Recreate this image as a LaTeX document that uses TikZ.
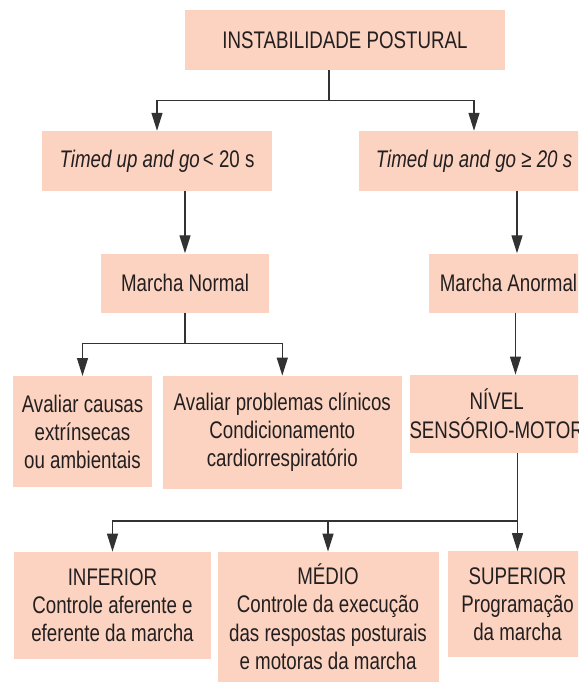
\documentclass[tikz,border=0pt]{standalone}
\usepackage{fontspec}
\setmainfont{Liberation Sans}[FakeStretch=0.78]
\usetikzlibrary{arrows.meta}
\definecolor{salmao}{RGB}{251,211,192}
\definecolor{tinta}{RGB}{35,31,32}
\definecolor{traco}{RGB}{50,50,50}

\begin{document}
\begin{tikzpicture}[x=1pt, y=-1pt,
    caixa/.style ={rectangle, fill=salmao, text=tinta, align=center, inner sep=0pt,
                   font=\fontsize{24pt}{28.2pt}\selectfont},
    ligacao/.style ={draw=traco, line width=1.3pt},
    seta/.style ={ligacao, -{Triangle[length=18pt, width=11pt]}}]
   \clip (0,0) rectangle (578,682);
   \node[caixa, minimum width=320pt, minimum height=60pt] (postural) at (345,40) {INSTABILIDADE POSTURAL};
   \node[caixa, minimum width=230pt, minimum height=60pt] (tugmenor) at (157,161) {\textit{Timed up and go}\hspace{3pt}< 20 s};
   \node[caixa, minimum width=230pt, minimum height=60pt] (tugmaior) at (474,161) {\textit{Timed up and go ≥ 20 s}};
   \node[caixa, minimum width=168pt, minimum height=59pt] (normal) at (185,283) {Marcha Normal};
   \node[caixa, minimum width=159pt, minimum height=59pt] (anormal) at (508.5,283) {Marcha Anormal};
   \node[caixa, minimum width=139pt, minimum height=111pt] (extrinseca) at (82.5,431.7) {Avaliar causas\\extrínsecas\\ou ambientais};
   \node[caixa, minimum width=239pt, minimum height=113pt] (clinica) at (282.3,432.3) {Avaliar problemas clínicos\\Condicionamento\\cardiorrespiratório};
   \node[caixa, minimum width=172pt, minimum height=78pt] (sensorio) at (496.7,413.8) {NÍVEL\\SENSÓRIO-MOTOR};
   \node[caixa, minimum width=197pt, minimum height=107pt] (inferior) at (112.5,605.3) {INFERIOR\\Controle aferente e\\eferente da marcha};
   \node[caixa, minimum width=221pt, minimum height=130pt] (medio) at (328,616.8) {MÉDIO\\Controle da execução\\das respostas posturais\\e motoras da marcha};
   \node[caixa, minimum width=139pt, minimum height=106pt] (superior) at (517.5,604.3) {SUPERIOR\\Programação\\da marcha};
   % ramos
   \coordinate (r1) at (329,100.7);
   \coordinate (r3) at (185,343.3);
   \coordinate (r4) at (517.5,521);
   \draw[ligacao] ([xshift=-16pt]postural.south) -- (r1);
   \draw[seta] (r1) -| (tugmenor.north);
   \draw[seta] (r1) -| (tugmaior.north);
   \draw[seta] (tugmenor.south -| normal.north) -- (normal.north);
   \draw[seta] ([xshift=43pt]tugmaior.south) -- ([xshift=8.5pt]anormal.north);
   \draw[ligacao] (normal.south) -- (r3);
   \draw[seta] (r3) -| (extrinseca.north);
   \draw[seta] (r3) -| (clinica.north);
   \draw[seta] ([xshift=7pt]anormal.south) -- ([xshift=18.8pt]sensorio.north);
   \draw[ligacao] (r4 |- sensorio.south) -- (r4);
   \draw[seta] (r4) -| (inferior.north);
   \draw[seta] (r4) -| (medio.north);
   \draw[seta] (r4) -- (superior.north);
\end{tikzpicture}
\end{document}
